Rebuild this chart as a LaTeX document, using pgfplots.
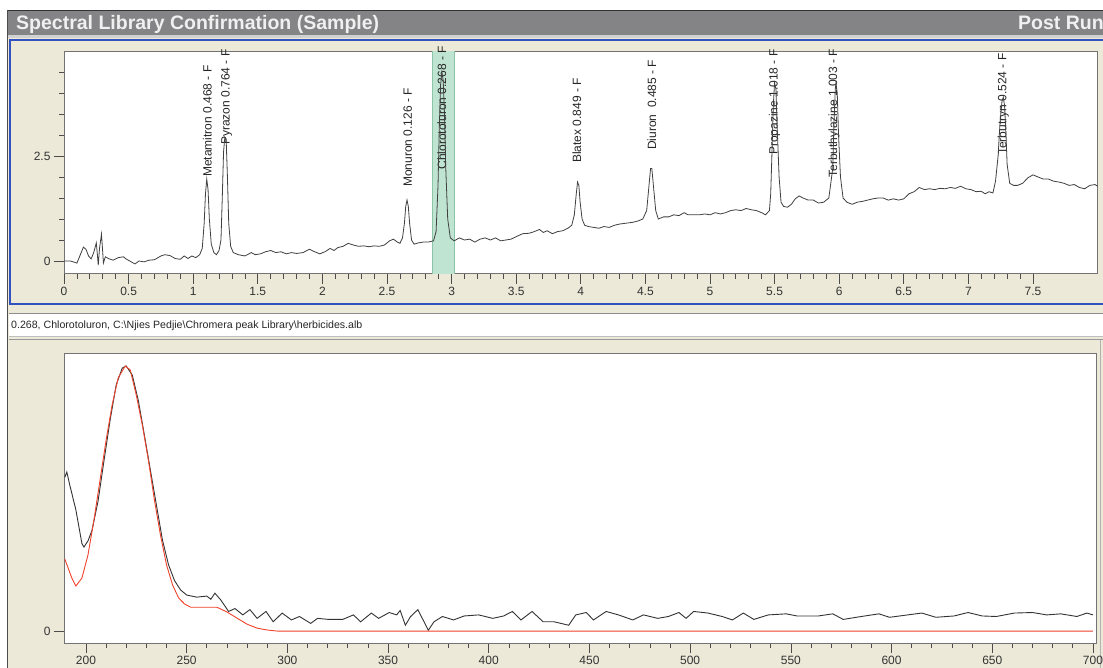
\documentclass[border=0pt]{standalone}
\usepackage{pgfplots}
\pgfplotsset{compat=1.18}
\usepackage{fontspec}
\setmainfont{Liberation Sans}

\definecolor{titlebar}{RGB}{132,132,134}
\definecolor{panel}{RGB}{236,233,216}
\definecolor{xpblue}{RGB}{50,82,192}
\definecolor{band}{RGB}{192,228,210}
\definecolor{bandedge}{RGB}{140,196,168}
\definecolor{specred}{RGB}{240,66,44}

\pgfplotsset{
  screen/.style={
    scale only axis,
    anchor=south west,
    axis background/.style={fill=white},
    axis line style={black!55},
    tick pos=left,
    tick align=outside,
    major tick length=10pt,
    minor tick length=5pt,
    tick style={black!70, line width=0.7pt},
    ticklabel style={font=\fontsize{12}{13}\selectfont, text=black!80},
    /pgf/number format/assume math mode=true,
    clip mode=individual,
  },
}
\tikzset{
  peaklabel/.style={rotate=90, anchor=west, inner sep=0pt,
    font=\fontsize{12}{13}\selectfont, text=black!85},
}

\begin{document}
\begin{tikzpicture}
\useasboundingbox (0pt,0pt) rectangle (1103pt,-668pt);

% window frame, title bar and panels
\begin{scope}[x=1pt,y=-1pt]
  \fill[white] (0,0) rectangle (1103,668);
  \fill[titlebar] (7,10) rectangle (1103,35);
  \draw[black!80, line width=1] (7,10.5) -- (1103,10.5);
  \draw[black!70] (7.5,10) -- (7.5,668);
  \node[anchor=base west, inner sep=0pt, text=white!94!black,
        font=\fontsize{19.5}{21}\selectfont\bfseries] at (16,29.5)
        {Spectral Library Confirmation (Sample)};
  \node[anchor=base west, inner sep=0pt, text=white!94!black,
        font=\fontsize{19.5}{21}\selectfont\bfseries] at (1018,29.5) {Post Run};
  \fill[black!18] (8,35) rectangle (1103,38);
  \fill[panel] (8,38) rectangle (1103,668);
  \draw[xpblue, line width=2.5] (10,40) rectangle (1108,304);
  % file line
  \fill[white] (9,313) rectangle (1103,336);
  \draw[black!45] (9,313.5) -- (1103,313.5);
  \draw[black!25] (9,336.5) -- (1103,336.5);
  \node[anchor=base west, inner sep=0pt, font=\fontsize{10.6}{12}\selectfont, text=black!85]
    at (11,328.5) {0.268, Chlorotoluron, C:\textbackslash Njies Pedjie\textbackslash Chromera peak Library\textbackslash herbicides.alb};
  \draw[black!40] (9,339.5) -- (1103,339.5);
  \draw[black!30] (1100.5,340) -- (1100.5,668);
\end{scope}

% chromatogram
\begin{axis}[screen,
  at={(64pt,-273.6pt)},
  width=1033.6pt, height=222.6pt,
  xmin=0, xmax=8, ymin=-0.3, ymax=5,
  xtick={0,0.5,1,1.5,2,2.5,3,3.5,4,4.5,5,5.5,6,6.5,7,7.5},
  minor x tick num=4,
  ytick={0,2.5},
  minor ytick={0.5,1,1.5,2,3,3.5,4,4.5},
]
  \fill[band] (axis cs:2.85,-0.3) rectangle (axis cs:3.02,5);
  \draw[bandedge] (axis cs:2.85,-0.3) -- (axis cs:2.85,5);
  \draw[bandedge] (axis cs:3.02,-0.3) -- (axis cs:3.02,5);

  \node[peaklabel] at (axis cs:1.11,2.0) {Metamitron 0.468 - F};
  \node[peaklabel] at (axis cs:1.26,2.76) {Pyrazon 0.764 - F};
  \node[peaklabel] at (axis cs:2.66,1.76) {Monuron 0.126 - F};
  \node[peaklabel] at (axis cs:2.925,2.17) {Chlorotoluron 0.268 - F};
  \node[peaklabel] at (axis cs:3.97,2.33) {Blatex 0.849 - F};
  \node[peaklabel] at (axis cs:4.55,2.64) {Diuron\ \ 0.485 - F};
  \node[peaklabel] at (axis cs:5.50,2.52) {Propazine 1.018 - F};
  \node[peaklabel] at (axis cs:5.96,1.98) {Terbuthylazine 1.003 - F};
  \node[peaklabel] at (axis cs:7.27,2.52) {Terbutryn 0.524 - F};

  \addplot[black!75, line width=0.8pt] coordinates {
    (0.00,0.00) (0.05,0.00) (0.08,-0.03) (0.10,-0.05) (0.12,0.10) (0.15,0.33)
    (0.17,0.28) (0.19,0.12) (0.21,0.05) (0.23,0.20) (0.25,0.43) (0.26,0.10)
    (0.265,-0.10) (0.275,0.30) (0.29,0.64) (0.30,0.20) (0.305,-0.05) (0.32,0.10)
    (0.35,0.05) (0.38,0.02) (0.42,0.08) (0.46,0.10) (0.48,0.05) (0.52,-0.02)
    (0.55,-0.07) (0.58,0.00) (0.62,-0.02) (0.66,0.02) (0.70,0.03) (0.75,0.12)
    (0.78,0.15) (0.82,0.13) (0.86,0.06) (0.90,0.04) (0.93,0.12) (0.96,0.06)
    (0.99,0.12) (1.02,0.08) (1.05,0.15)
    (1.07,0.30) (1.085,0.90) (1.095,1.60) (1.105,1.95) (1.115,1.70) (1.125,1.00)
    (1.14,0.40) (1.16,0.20) (1.18,0.15) (1.20,0.25)
    (1.215,0.50) (1.225,1.50) (1.235,2.60) (1.245,2.95) (1.255,2.90) (1.265,2.00)
    (1.275,0.90) (1.29,0.35) (1.31,0.20)
    (1.35,0.15) (1.40,0.12) (1.45,0.20) (1.48,0.15) (1.52,0.17) (1.56,0.22)
    (1.60,0.25) (1.64,0.20) (1.68,0.22) (1.72,0.17) (1.76,0.20) (1.80,0.18)
    (1.85,0.20) (1.90,0.28) (1.94,0.22) (1.98,0.17) (2.02,0.22) (2.06,0.30)
    (2.09,0.25) (2.12,0.32) (2.16,0.35) (2.20,0.42) (2.24,0.38) (2.28,0.35)
    (2.32,0.36) (2.36,0.34) (2.40,0.36) (2.44,0.35) (2.48,0.38) (2.52,0.48)
    (2.55,0.52) (2.58,0.45) (2.60,0.42)
    (2.62,0.55) (2.635,0.90) (2.645,1.30) (2.655,1.45) (2.665,1.30) (2.675,0.90)
    (2.69,0.50) (2.71,0.40) (2.74,0.43) (2.78,0.45) (2.82,0.45) (2.86,0.48)
    (2.88,0.70) (2.895,1.80) (2.905,3.20) (2.915,4.20) (2.925,4.50) (2.935,4.30)
    (2.945,3.50) (2.955,2.20) (2.97,1.00) (2.99,0.55)
    (3.02,0.48) (3.06,0.55) (3.10,0.50) (3.14,0.52) (3.18,0.45) (3.22,0.52)
    (3.26,0.55) (3.30,0.50) (3.34,0.55) (3.38,0.48) (3.42,0.50) (3.46,0.52)
    (3.50,0.58) (3.55,0.65) (3.60,0.66) (3.64,0.70) (3.68,0.75) (3.71,0.68)
    (3.74,0.72) (3.78,0.65) (3.82,0.70) (3.86,0.72) (3.90,0.78) (3.93,0.85)
    (3.95,1.10) (3.965,1.60) (3.975,1.88) (3.985,1.80) (3.995,1.40) (4.01,1.00)
    (4.03,0.85) (4.06,0.82) (4.10,0.80) (4.14,0.78) (4.18,0.82) (4.22,0.80)
    (4.26,0.85) (4.30,0.88) (4.35,0.90) (4.40,0.92) (4.44,0.95) (4.48,1.00)
    (4.51,1.20) (4.525,1.70) (4.54,2.20) (4.55,2.20) (4.565,1.70) (4.58,1.20)
    (4.60,1.00) (4.64,1.05) (4.68,1.05) (4.72,1.10) (4.76,1.08) (4.80,1.15)
    (4.83,1.10) (4.87,1.10) (4.92,1.10) (4.96,1.12) (5.00,1.10) (5.04,1.15)
    (5.08,1.12) (5.12,1.15) (5.16,1.20) (5.20,1.22) (5.24,1.20) (5.28,1.25)
    (5.32,1.22) (5.36,1.20) (5.40,1.15) (5.43,1.10) (5.46,1.20)
    (5.47,1.60) (5.48,2.60) (5.49,3.70) (5.50,4.24) (5.51,4.10) (5.52,3.20)
    (5.535,2.00) (5.55,1.40) (5.57,1.30) (5.60,1.28) (5.63,1.35) (5.66,1.48)
    (5.69,1.55) (5.72,1.50) (5.76,1.45) (5.80,1.45) (5.84,1.38) (5.88,1.40)
    (5.92,1.50) (5.95,2.20) (5.96,3.30) (5.97,4.10) (5.975,4.24) (5.985,4.00)
    (5.995,3.00) (6.01,2.00) (6.03,1.50) (6.06,1.40) (6.10,1.35) (6.14,1.40)
    (6.18,1.42) (6.22,1.45) (6.26,1.48) (6.30,1.50) (6.34,1.50) (6.38,1.45)
    (6.42,1.48) (6.46,1.45) (6.50,1.48) (6.54,1.60) (6.58,1.65) (6.62,1.75)
    (6.66,1.70) (6.70,1.72) (6.74,1.70) (6.78,1.73) (6.82,1.72) (6.86,1.75)
    (6.90,1.73) (6.94,1.78) (6.98,1.72) (7.02,1.70) (7.06,1.65) (7.10,1.66)
    (7.13,1.60) (7.16,1.65) (7.19,1.62) (7.21,1.90)
    (7.23,2.50) (7.245,3.30) (7.26,3.80) (7.27,3.90) (7.28,3.70) (7.29,3.10)
    (7.30,2.30) (7.32,1.85) (7.35,1.80) (7.38,1.80) (7.42,1.85) (7.46,1.98)
    (7.50,2.05) (7.54,2.00) (7.58,1.95) (7.62,1.95) (7.66,1.90) (7.70,1.88)
    (7.74,1.85) (7.78,1.80) (7.82,1.82) (7.86,1.75) (7.90,1.72) (7.94,1.80)
    (7.98,1.82) (8.00,1.78)
  };
\end{axis}

% spectrum comparison
\begin{axis}[screen,
  at={(64pt,-643pt)},
  width=1032pt, height=290pt,
  xmin=189.1, xmax=701.5, ymin=-0.045, ymax=1.049,
  xtick={200,250,300,350,400,450,500,550,600,650,700},
  minor x tick num=4,
  ytick={0},
]
  % sample spectrum
  \addplot[black!80, line width=0.9pt] coordinates {
    (189.5,0.58) (190.5,0.60) (192,0.55) (195,0.457) (198,0.33) (199,0.317)
    (201,0.34) (203,0.38) (206,0.49) (209,0.645) (212,0.796) (215,0.928)
    (218,0.992) (220,1.00) (223,0.966) (226,0.87) (229,0.74) (232,0.607)
    (235,0.475) (238,0.343) (241,0.25) (244,0.19) (247,0.155) (250,0.136)
    (255,0.128) (260,0.132) (262,0.12) (264,0.143) (267,0.117) (270.8,0.074)
    (274,0.085) (277.9,0.061) (281.4,0.081) (285,0.048) (289.4,0.074) (293,0.035)
    (297.4,0.068) (302,0.042) (306,0.055) (311.6,0.029) (315,0.048) (320.4,0.044)
    (327.5,0.044) (332.8,0.061) (336.4,0.035) (341.7,0.068) (345.3,0.048)
    (350.6,0.070) (354.3,0.061) (356,0.078) (358.6,0.022) (361.2,0.055)
    (364.8,0.081) (367.4,0.042) (370,0.003) (372.8,0.035) (377,0.055)
    (382.5,0.042) (387.8,0.057) (395,0.061) (402,0.048) (407.4,0.057)
    (411.7,0.074) (416,0.042) (421.5,0.074) (427,0.035) (432.5,0.035)
    (439.7,0.022) (443.2,0.061) (448.4,0.070) (452,0.042) (458.3,0.074)
    (464.4,0.061) (471.5,0.042) (476.8,0.061) (483.9,0.048) (489.2,0.055)
    (494.4,0.070) (498,0.048) (501.7,0.074) (508.8,0.068) (515.9,0.055)
    (521,0.042) (526.4,0.068) (531.6,0.044) (538.8,0.061) (547.7,0.065)
    (553,0.057) (563.7,0.057) (570.8,0.065) (576,0.044) (585,0.055)
    (593.7,0.065) (599,0.052) (608,0.061) (615,0.068) (622,0.052) (631,0.057)
    (638,0.070) (645,0.057) (652,0.055) (661,0.068) (670,0.070) (677,0.061)
    (684,0.065) (692,0.055) (697,0.068) (700,0.061)
  };
  % library spectrum
  \addplot[specred, line width=0.9pt] coordinates {
    (189.5,0.272) (193,0.20) (195,0.17) (198,0.20) (201,0.287) (204,0.42)
    (207,0.57) (210,0.72) (213,0.853) (216,0.955) (219.5,1.00) (222,0.985)
    (225,0.89) (228,0.777) (231,0.645) (234,0.494) (237,0.362) (240,0.25)
    (243,0.174) (246,0.125) (249,0.102) (252,0.09) (258,0.09) (265,0.09)
    (270,0.072) (275,0.049) (280,0.026) (285,0.011) (290,0.004) (295,0.0)
    (400,0.0) (500,0.0) (600,0.0) (700,0.0)
  };
\end{axis}
\end{tikzpicture}
\end{document}
